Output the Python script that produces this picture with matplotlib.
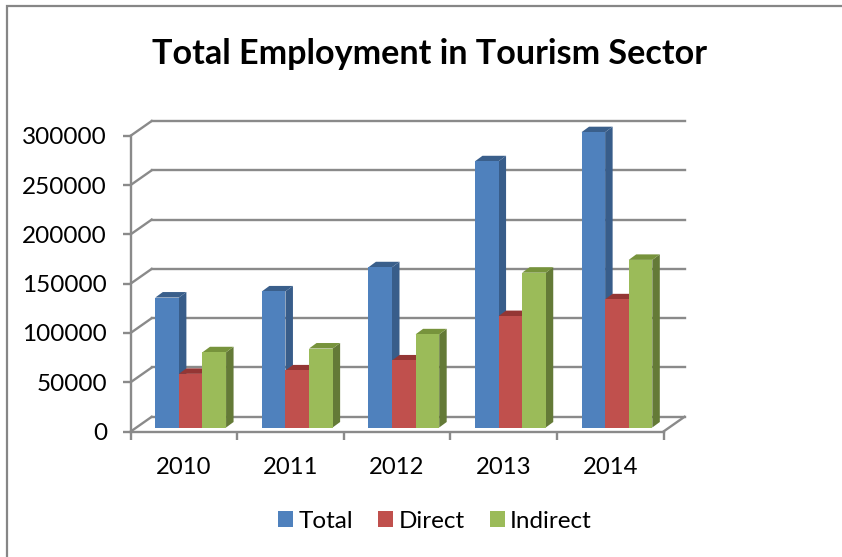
import matplotlib
matplotlib.use("Agg")
import matplotlib.pyplot as plt
from matplotlib.patches import Polygon, Rectangle
from matplotlib.transforms import Affine2D

# data
years = ['2010', '2011', '2012', '2013', '2014']
total = [131800, 138000, 162500, 270000, 299500]
direct = [54400, 57900, 68000, 113000, 130000]
indirect = [76300, 80100, 94500, 157000, 170000]
y_ticks = [0, 50000, 100000, 150000, 200000, 250000, 300000]

W, H = 842, 557
plt.rcParams['font.family'] = ['Lato', 'DejaVu Sans']
GRID = '#8a8a8a'
LW = 1.7

fig = plt.figure(figsize=(W / 100, H / 100), dpi=100)
# front plane of the fake 3D box, pixel positions turned into figure fractions
left, right, bottom, top = 130.7, 663.5, 431.5, 135.7
ax = fig.add_axes([left / W, 1 - bottom / H, (right - left) / W, (bottom - top) / H])
ax.set_xlim(0, 5)
ax.set_ylim(0, 300000)
ax.patch.set_alpha(0)

# outer frame, open on the right and at the bottom
fig.add_artist(Rectangle((6.8 / W, -0.02), (W + 10) / W, 1.02 - 6 / H, transform=fig.transFigure,
                         fill=False, edgecolor='#868686', linewidth=1.6))

# back wall and floor
wall_dx, wall_dy = 21, 14.7
wall = ax.transData + Affine2D().translate(wall_dx, wall_dy)
for v in y_ticks:
    ax.plot([0, 5], [v, v], color=GRID, lw=LW, transform=wall, clip_on=False, zorder=1)
    # diagonal from the axis to the wall
    x0, y0 = ax.transData.transform((0, v))
    ax.plot([x0, x0 + wall_dx], [y0, y0 + wall_dy], color=GRID, lw=LW,
            transform=None, clip_on=False, zorder=1)
x0, y0 = ax.transData.transform((5, 0))
ax.plot([x0, x0 + wall_dx], [y0, y0 + wall_dy], color=GRID, lw=LW,
        transform=None, clip_on=False, zorder=1)

# bars: front face, side and top
bar_w = 23.6 / 106.6  # share of one category
depth_x, depth_y = 7.5, 5.5
front = ax.transData + Affine2D().translate(6.7, 4.0)

series = [
    ('Total', total, -1, '#4F81BD', '#385D8A', '#3A5F8B'),
    ('Direct', direct, 0, '#C0504D', '#8C3836', '#943634'),
    ('Indirect', indirect, 1, '#9BBB59', '#647A37', '#77933C'),
]
handles = []
order = 3
for name, values, pos, face, side, lid in series:
    for i, v in enumerate(values):
        xa = i + 0.5 + (pos - 0.5) * bar_w
        xb = xa + bar_w
        (pa, qa), (pb, qb) = front.transform([(xa, 0), (xb, v)])
        ax.add_patch(Polygon([(pb, qa), (pb + depth_x, qa + depth_y), (pb + depth_x, qb + depth_y), (pb, qb)],
                             closed=True, facecolor=side, edgecolor='none', transform=None,
                             clip_on=False, zorder=order))
        ax.add_patch(Polygon([(pa, qb), (pb, qb), (pb + depth_x, qb + depth_y), (pa + depth_x, qb + depth_y)],
                             closed=True, facecolor=lid, edgecolor='none', transform=None,
                             clip_on=False, zorder=order))
    bars = ax.bar([i + 0.5 + pos * bar_w for i in range(len(values))], values, width=bar_w,
                  color=face, transform=front, clip_on=False, zorder=order + 0.5)
    bars[0].set_label(name)
    handles.append(bars[0])
    order += 1

# axes
for s in ['top', 'right']:
    ax.spines[s].set_visible(False)
for s in ['left', 'bottom']:
    ax.spines[s].set_color(GRID)
    ax.spines[s].set_linewidth(LW)
ax.set_xticks(range(6))
ax.set_xticklabels([])
ax.set_xticks([i + 0.5 for i in range(5)], labels=years, minor=True)
ax.tick_params(axis='x', which='major', length=6, width=LW, color=GRID)
ax.tick_params(axis='x', which='minor', length=0, pad=18, labelsize=17.2, labelcolor='black')
ax.set_yticks(y_ticks)
ax.tick_params(axis='y', length=6, width=LW, color=GRID, pad=11, labelsize=17.5)

fig.text(429 / W, 1 - 54 / H, 'Total Employment in Tourism Sector', ha='center', va='center',
         fontsize=24.6, fontweight='bold', color='black')

fig.legend(handles=handles, labels=[h.get_label() for h in handles], loc='center',
           bbox_to_anchor=(435 / W, 1 - 521 / H), ncols=3, frameon=False,
           fontsize=17.5, handlelength=0.62, handleheight=0.62, handletextpad=0.2, columnspacing=1.05)

plt.savefig('out.png', dpi=100)
